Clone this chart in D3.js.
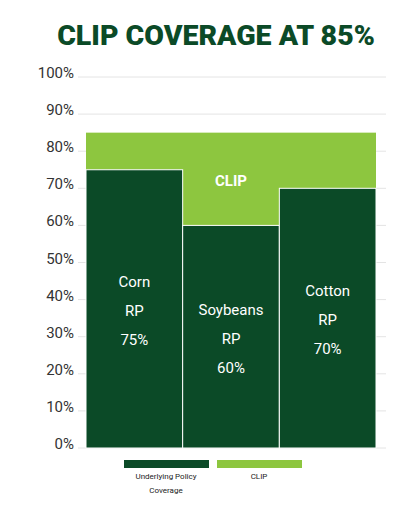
<!DOCTYPE html>
<html><head><meta charset="utf-8">
<script src="https://cdn.jsdelivr.net/npm/d3@7"></script>
<style>body{margin:0;background:#fff;font-family:Roboto,"Open Sans",sans-serif}</style>
</head><body><svg id="c" width="417" height="510"></svg>
<script>
const crops = ['Corn', 'Soybeans', 'Cotton'];
const coverage = [75, 60, 70];
const clipLevel = 85;
const yTicks = [0, 10, 20, 30, 40, 50, 60, 70, 80, 90, 100];

const dark = '#0b4a27', light = '#8dc63f';
const svg = d3.select('#c');

svg.append('text').attr('x', 216).attr('y', 45).attr('text-anchor', 'middle')
    .attr('font-size', 28.5).attr('font-weight', 900).attr('fill', dark)
    .text('CLIP COVERAGE AT 85%');

const x = d3.scaleBand().domain(crops).range([86, 376]).padding(0);
const y = d3.scaleLinear().domain([0, 100]).range([448, 77]);

/// gridlines and labels
svg.append('g').selectAll('line').data(yTicks).enter().append('line')
    .attr('x1', 78).attr('x2', 386)
    .attr('y1', d => y(d)).attr('y2', d => y(d))
    .attr('stroke', '#e4e4e4').attr('stroke-width', 1);
svg.append('g').selectAll('text').data(yTicks).enter().append('text')
    .attr('x', 74).attr('y', d => y(d) + 1)
    .attr('text-anchor', 'end').attr('font-size', 15).attr('fill', '#333')
    .text(d => d + '%');

/// clip band across all crops
svg.append('rect').attr('x', x.range()[0]).attr('width', x.range()[1] - x.range()[0])
    .attr('y', y(clipLevel)).attr('height', y(0) - y(clipLevel)).attr('fill', light);

svg.append('g').selectAll('rect').data(crops).enter().append('rect')
    .attr('x', d => x(d)).attr('width', x.bandwidth())
    .attr('y', (d, i) => y(coverage[i])).attr('height', (d, i) => y(0) - y(coverage[i]))
    .attr('fill', dark).attr('stroke', '#fff').attr('stroke-width', 1);

svg.append('text').attr('x', x('Soybeans') + x.bandwidth() / 2).attr('y', 186)
    .attr('text-anchor', 'middle').attr('font-size', 15).attr('font-weight', 700)
    .attr('fill', '#fff').text('CLIP');

/// labels inside bars
crops.forEach(function(c, i) {
    const cy = (y(coverage[i]) + y(0)) / 2 + 7;
    [c, 'RP', coverage[i] + '%'].forEach(function(t, j) {
        svg.append('text').attr('x', x(c) + x.bandwidth() / 2).attr('y', cy + (j - 1) * 29)
            .attr('text-anchor', 'middle').attr('font-size', 15).attr('fill', '#fff').text(t);
    });
});

/// legend
svg.append('rect').attr('x', 124).attr('y', 460).attr('width', 85).attr('height', 8).attr('fill', dark);
svg.append('rect').attr('x', 217).attr('y', 460).attr('width', 85).attr('height', 8).attr('fill', light);
svg.append('text').attr('x', 166).attr('y', 479).attr('text-anchor', 'middle').attr('font-size', 8).attr('fill', '#222').text('Underlying Policy');
svg.append('text').attr('x', 166).attr('y', 493).attr('text-anchor', 'middle').attr('font-size', 8).attr('fill', '#222').text('Coverage');
svg.append('text').attr('x', 259).attr('y', 479).attr('text-anchor', 'middle').attr('font-size', 8).attr('fill', '#222').text('CLIP');
</script></body></html>
